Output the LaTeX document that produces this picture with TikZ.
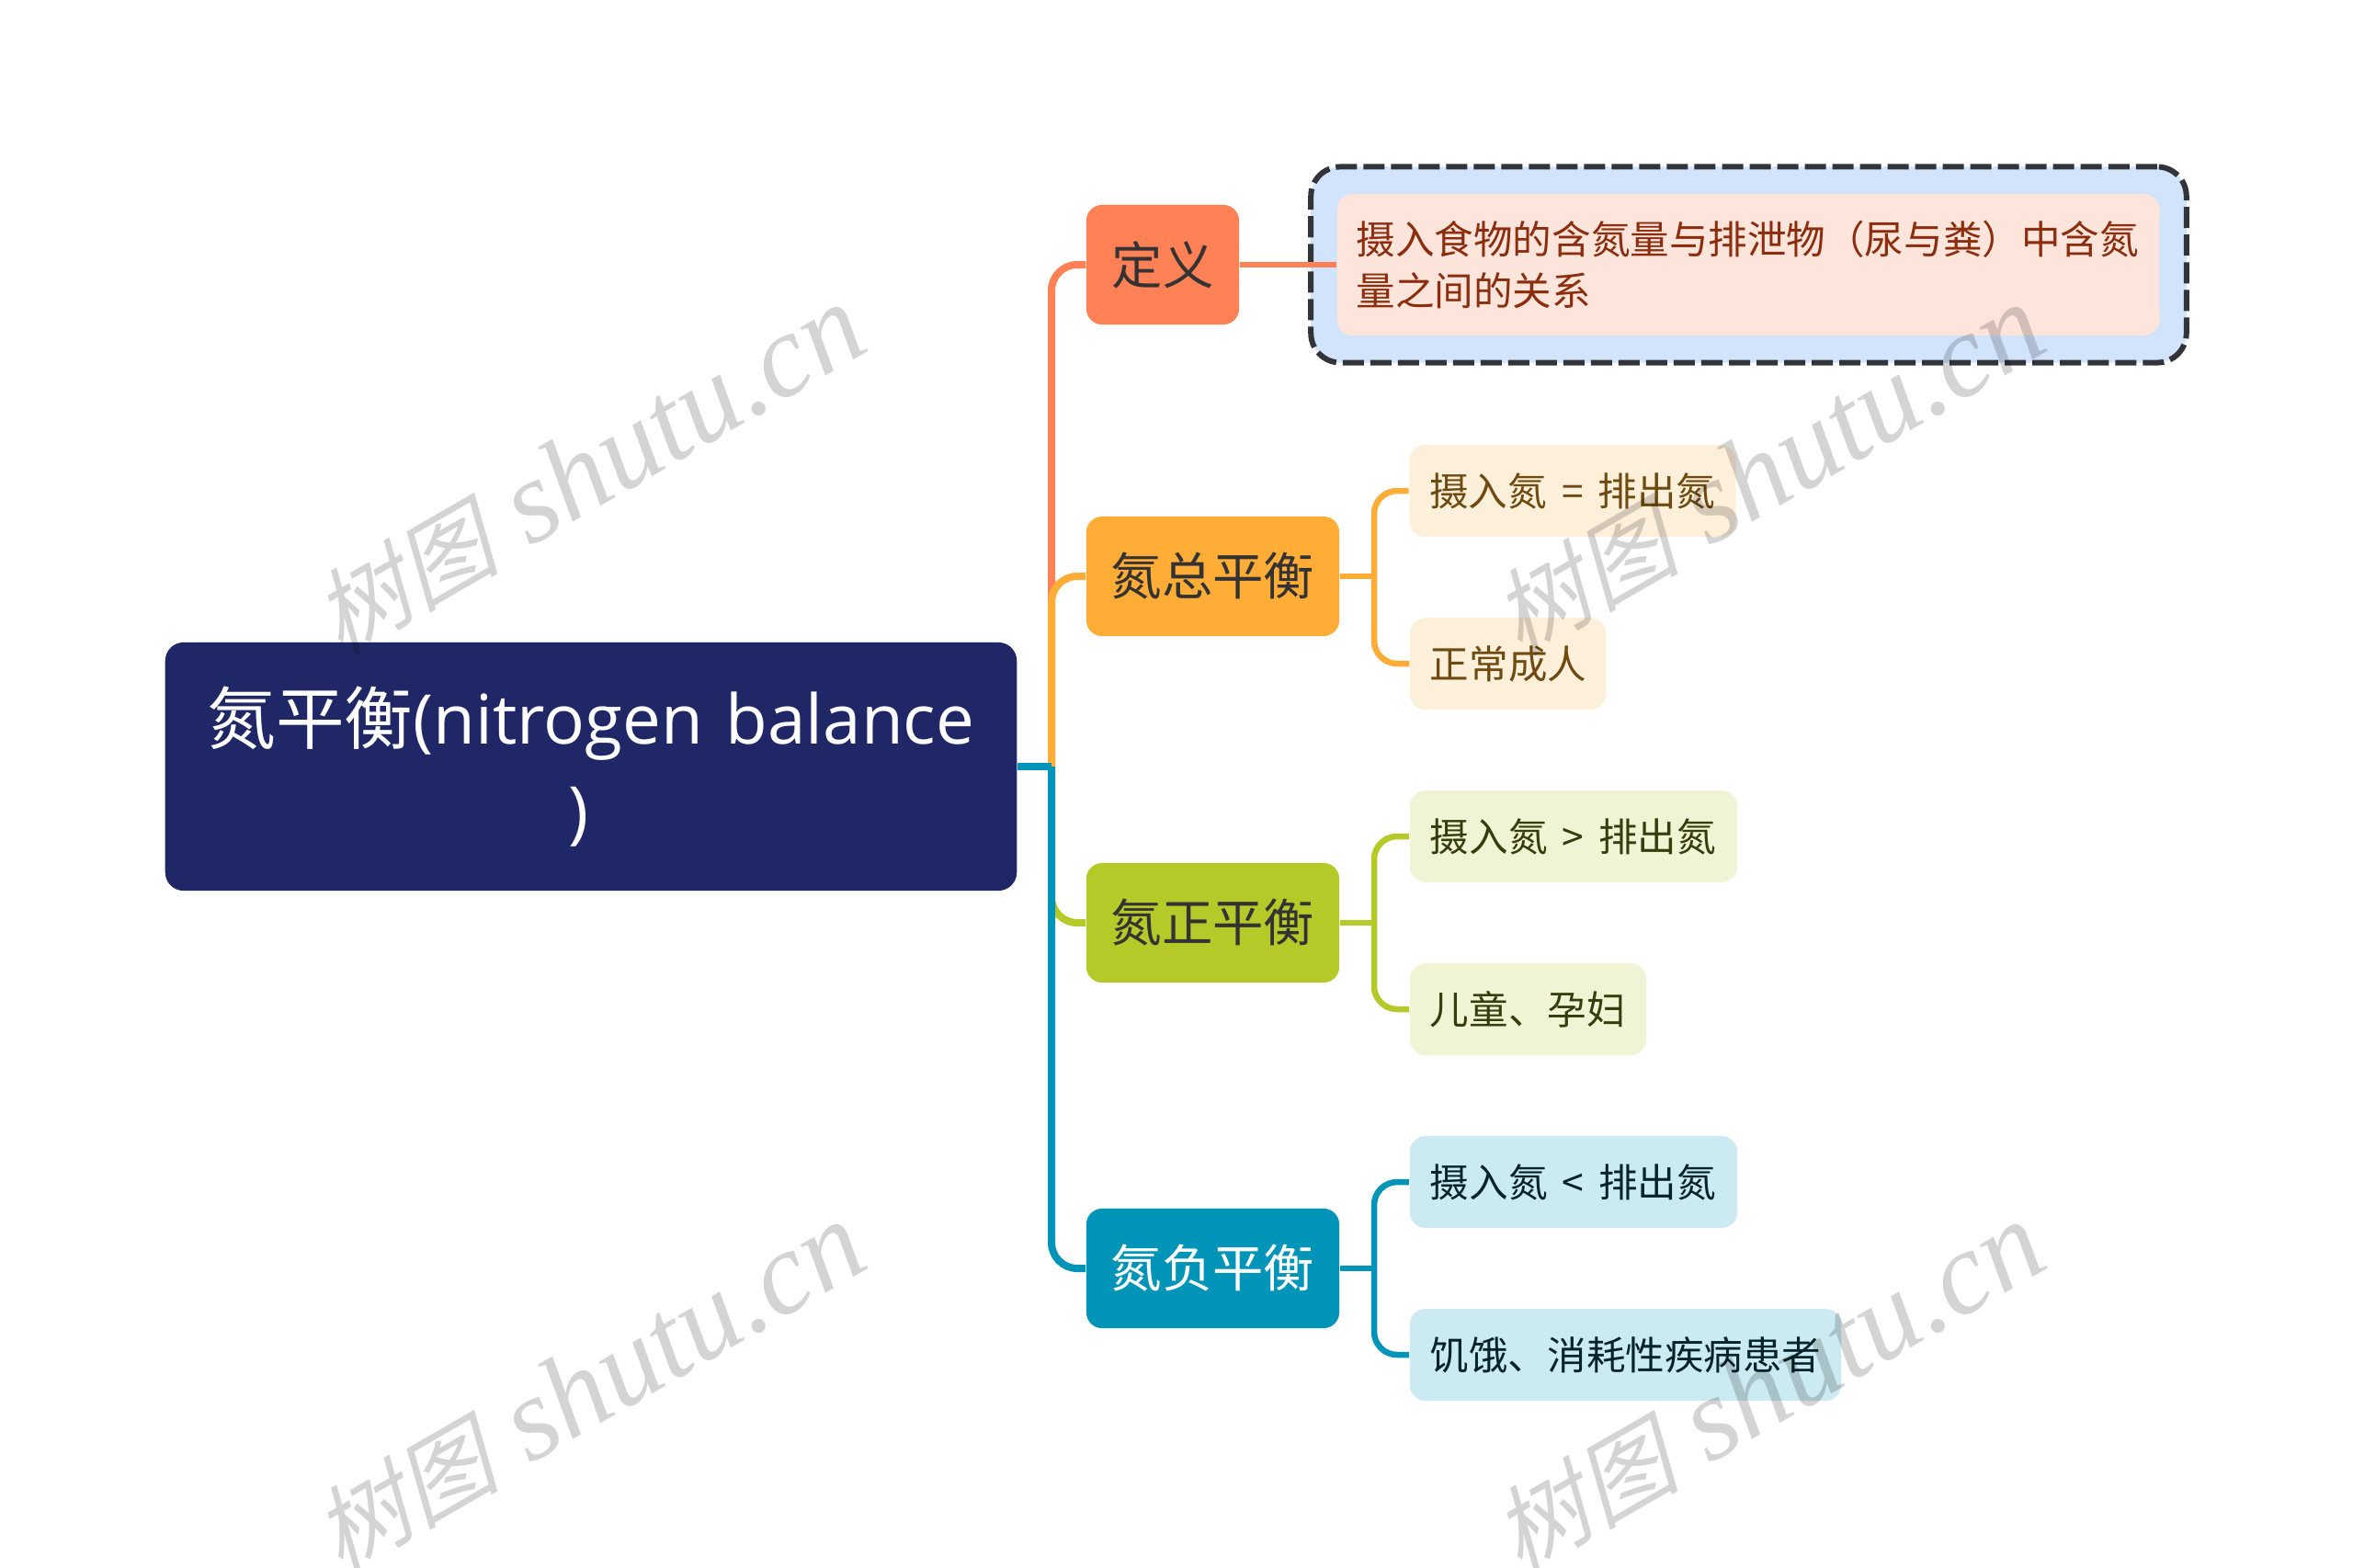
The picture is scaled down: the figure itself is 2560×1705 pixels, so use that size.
\documentclass[tikz,border=0pt]{standalone}
\usepackage{fontspec}
\setmainfont{Open Sans}
\newfontfamily\cjk{Noto Sans CJK SC}
\newfontfamily\cjkslant[FakeSlant=0.25]{Noto Sans CJK SC}
\newfontfamily\markfont{Liberation Serif}
\definecolor{navyroot}{HTML}{1F2766}
\definecolor{redbr}{HTML}{FF8155}
\definecolor{amberbr}{HTML}{FFAD36}
\definecolor{greenbr}{HTML}{B5CA29}
\definecolor{tealbr}{HTML}{0095B8}
\definecolor{dashfill}{HTML}{D2E3FC}
\definecolor{dashline}{HTML}{33343A}
\definecolor{redleaf}{HTML}{FDE5DC}
\definecolor{amberleaf}{HTML}{FDF0DB}
\definecolor{greenleaf}{HTML}{F0F3D4}
\definecolor{tealleaf}{HTML}{CCEAF1}
\definecolor{redtext}{HTML}{8C2D0E}
\definecolor{ambertext}{HTML}{6F4A10}
\definecolor{greentext}{HTML}{363C0C}
\definecolor{tealtext}{HTML}{06222A}
\newcommand{\markword}{{\cjkslant\fontsize{29}{40}\selectfont 树图} {\markfont\itshape shutu.cn}}
\newcommand{\relword}[1]{\mbox{摄入氮\hspace{0.16cm}#1\hspace{0.16cm}排出氮}}
\tikzset{
	rootbox/.style={fill=navyroot, rounded corners=0.2cm, minimum width=9.26cm, minimum height=2.7cm, text width=9cm, align=center, text=white, inner sep=0pt, font=\fontsize{21.2}{28.4}\selectfont},
	mainbox/.style={rounded corners=0.17cm, minimum height=1.3cm, inner sep=0pt, font=\cjk\fontsize{15.75}{18}\selectfont},
	leafbox/.style={rounded corners=0.17cm, minimum height=1cm, inner xsep=0.22cm, inner ysep=0pt, align=left, font=\cjk\fontsize{12.1}{15.8}\selectfont},
	trunkline/.style={line width=0.08cm, rounded corners=0.28cm},
	forkline/.style={line width=0.065cm, rounded corners=0.25cm},
	watermark/.style={rotate=30, text=black, text opacity=0.17, inner sep=0pt, font=\fontsize{36.5}{40}\selectfont}
}
\begin{document}
\begin{tikzpicture}[x=0.01cm, y=-0.01cm]
	\fill[white] (0, 0) rectangle (2560, 1705);
	\useasboundingbox (0, 0) rectangle (2560, 1705);

	%%%%% NODES %%%%%
	\node[rootbox] (root) at (643, 834) {{\cjk 氮平衡}(nitrogen balance\\\hspace*{-0.26cm})};

	\node[mainbox, fill=redbr, minimum width=1.66cm, text=black!80] (define) at (1265, 288) {定义};
	\node[mainbox, fill=amberbr, minimum width=2.75cm, text=black!80] (total) at (1319.5, 627) {氮总平衡};
	\node[mainbox, fill=greenbr, minimum width=2.75cm, text=black!80] (positive) at (1319.5, 1004) {氮正平衡};
	\node[mainbox, fill=tealbr, minimum width=2.75cm, text=white] (negative) at (1319.5, 1380) {氮负平衡};

	\node[draw=dashline, line width=0.06cm, dash pattern=on 0.23cm off 0.07cm, fill=dashfill, rounded corners=0.32cm, minimum width=9.52cm, minimum height=2.13cm, inner sep=0pt] (dashed) at (1902.5, 288) {};
	\node[leafbox, fill=redleaf, text=redtext, text width=8.52cm, minimum height=1.54cm, inner xsep=0.21cm] (fact) at (1902, 288) {摄入食物的含氮量与排泄物（尿与粪）中含氮\\量之间的关系};

	\node[leafbox, fill=amberleaf, text=ambertext, text width=3.11cm] (totalA) at (1711, 534) {\relword{=}};
	\node[leafbox, fill=amberleaf, text=ambertext, text width=1.69cm] (totalB) at (1640.5, 722) {正常成人};
	\node[leafbox, fill=greenleaf, text=greentext, text width=3.12cm] (positiveA) at (1712, 910) {\relword{>}};
	\node[leafbox, fill=greenleaf, text=greentext, text width=2.13cm] (positiveB) at (1662.5, 1098) {儿童、孕妇};
	\node[leafbox, fill=tealleaf, text=tealtext, text width=3.12cm] (negativeA) at (1712, 1286) {\relword{<}};
	\node[leafbox, fill=tealleaf, text=tealtext, text width=4.25cm] (negativeB) at (1768.5, 1474) {饥饿、消耗性疾病患者};

	%%%%% CONNECTORS %%%%%
	\coordinate (trunk) at (1144, 834);
	\coordinate (forkT) at (1495, 627);
	\coordinate (forkP) at (1495, 1004);
	\coordinate (forkN) at (1495, 1380);

	\draw[trunkline, redbr] (trunk) |- (define.west);
	\draw[trunkline, amberbr] (trunk) |- (total.west);
	\draw[trunkline, greenbr] (trunk) |- (positive.west);
	\draw[trunkline, tealbr] (trunk) |- (negative.west);
	\draw[line width=0.08cm, tealbr] (root.east |- trunk) -- (trunk);

	\draw[line width=0.065cm, redbr] (define.east) -- (fact.west);

	\draw[line width=0.065cm, amberbr] (total.east) -- (forkT);
	\draw[forkline, amberbr] (forkT) |- (totalA.west);
	\draw[forkline, amberbr] (forkT) |- (totalB.west);

	\draw[line width=0.065cm, greenbr] (positive.east) -- (forkP);
	\draw[forkline, greenbr] (forkP) |- (positiveA.west);
	\draw[forkline, greenbr] (forkP) |- (positiveB.west);

	\draw[line width=0.065cm, tealbr] (negative.east) -- (forkN);
	\draw[forkline, tealbr] (forkN) |- (negativeA.west);
	\draw[forkline, tealbr] (forkN) |- (negativeB.west);

	%%%%% WATERMARKS %%%%%
	\node[watermark] (markA) at (640, 512) {\markword};
	\node[watermark] (markB) at (1923, 512) {\markword};
	\node[watermark] (markC) at (640, 1510) {\markword};
	\node[watermark] (markD) at (1923, 1510) {\markword};
\end{tikzpicture}
\end{document}
